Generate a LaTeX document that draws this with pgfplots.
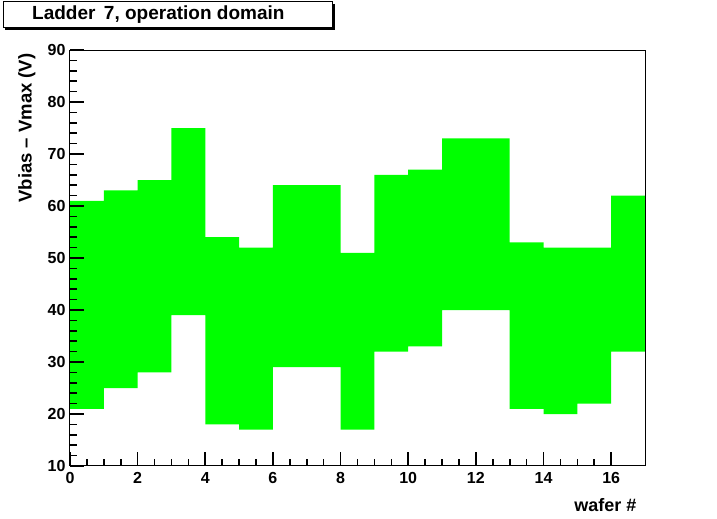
\documentclass[border=0pt]{standalone}
\usepackage{pgfplots}
\pgfplotsset{compat=1.18}
\usepackage{fontspec}
\setmainfont{Liberation Sans}
\definecolor{rootgreen}{RGB}{0,255,0}
\begin{document}
\begin{tikzpicture}
\path[use as bounding box] (0pt,0pt) rectangle (717pt,519pt);
\begin{axis}[
  at={(70pt,53pt)}, anchor=south west,
  scale only axis, width=575pt, height=416pt,
  xmin=0, xmax=17, ymin=10, ymax=90,
  xtick={0,2,...,16}, ytick={10,20,...,90},
  minor x tick num=3, minor y tick num=4,
  tick align=inside, xtick pos=left, ytick pos=left,
  major tick length=14pt, minor tick length=7pt,
  tick style={black, line width=1.6pt},
  axis line style={black, line width=1pt},
  /pgf/number format/assume math mode=true,
  ticklabel style={font=\fontsize{16}{18}\selectfont\bfseries},
  xticklabel style={yshift=-3pt},
  yticklabel style={xshift=-1pt},
  xlabel={wafer \#},
  xlabel style={at={(axis description cs:0.991,-0.094)}, anchor=east, font=\fontsize{18}{20}\selectfont\bfseries},
  ylabel={Vbias -- Vmax (V)},
  ylabel style={at={(axis description cs:-0.075,1.0)}, anchor=east, font=\fontsize{18.5}{20}\selectfont\bfseries},
  axis on top,
]
% upper edge (left to right) followed by lower edge (right to left)
\addplot[fill=rootgreen, draw=none] coordinates {
(0,61) (1,61) (1,63) (2,63) (2,65) (3,65) (3,75) (4,75) (4,54) (5,54)
(5,52) (6,52) (6,64) (7,64) (8,64) (8,51) (9,51) (9,66) (10,66) (10,67)
(11,67) (11,73) (12,73) (13,73) (13,53) (14,53) (14,52) (15,52) (16,52)
(16,62) (17,62)
(17,32) (16,32) (16,22) (15,22) (15,20) (14,20) (14,21) (13,21) (13,40)
(12,40) (11,40) (11,33) (10,33) (10,32) (9,32) (9,17) (8,17) (8,29)
(7,29) (6,29) (6,17) (5,17) (5,18) (4,18) (4,39) (3,39) (3,28) (2,28)
(2,25) (1,25) (1,21) (0,21)
} \closedcycle;
\end{axis}
\fill[black] (5pt,489pt) rectangle (335pt,515pt);
\draw[black, line width=1pt, fill=white] (3pt,491pt) rectangle (332pt,517pt);
\node[anchor=west, font=\fontsize{19}{21}\selectfont\bfseries, inner sep=0pt] at (32pt,504pt) {Ladder\, 7, operation domain};
\end{tikzpicture}
\end{document}
